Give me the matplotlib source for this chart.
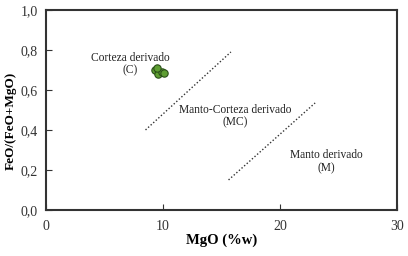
import matplotlib
matplotlib.use("Agg")
import matplotlib.pyplot as plt
from matplotlib.ticker import FuncFormatter

plt.rcParams['font.family'] = ['Liberation Serif', 'DejaVu Serif']

mgo = [9.3, 9.6, 9.9, 10.1, 9.5]
ratio = [0.70, 0.68, 0.69, 0.685, 0.71]

line1_x = [8.5, 15.8]
line1_y = [0.40, 0.79]
line2_x = [15.6, 23.0]
line2_y = [0.15, 0.535]

labels = ["Corteza derivado\n(C)", "Manto-Corteza derivado\n(MC)", "Manto derivado\n(M)"]
label_x = [7.2, 16.2, 24.0]
label_y = [0.73, 0.47, 0.24]

xticks = [0, 10, 20, 30]
yticks = [0.0, 0.2, 0.4, 0.6, 0.8, 1.0]

fig = plt.figure(figsize=(4.08, 2.56), dpi=100)
ax = fig.add_axes([0.113, 0.180, 0.860, 0.781])

ax.plot(line1_x, line1_y, linestyle=(0, (1, 1.5)), color='#333333', lw=1.0)
ax.plot(line2_x, line2_y, linestyle=(0, (1, 1.5)), color='#333333', lw=1.0)

ax.scatter(mgo, ratio, s=28, facecolor='#5e9e32', edgecolor='#2a4f18', linewidth=0.8, zorder=3)

for t, x, y in zip(labels, label_x, label_y):
    ax.text(x, y, t, ha='center', va='center', fontsize=8.3, color='#222222', linespacing=1.1)

ax.set_xlim(0, 30)
ax.set_ylim(0, 1.0)
ax.set_xticks(xticks)
ax.set_yticks(yticks)
ax.yaxis.set_major_formatter(FuncFormatter(lambda v, p: f"{v:.1f}".replace('.', ',')))
ax.tick_params(axis='x', direction='in', length=4, labelsize=10, pad=7, colors='#333333')
ax.tick_params(axis='y', direction='in', length=4, labelsize=10, pad=6, colors='#333333')
for s in ax.spines.values():
    s.set_linewidth(1.5)
    s.set_color('#333333')

ax.set_xlabel("MgO (%w)", fontsize=10.5, fontweight='bold')
ax.xaxis.set_label_coords(0.5, -0.12)
ax.set_ylabel("FeO/(FeO+MgO)", fontsize=9.5, fontweight='bold')
ax.yaxis.set_label_coords(-0.083, 0.445)

fig.savefig("out.png", dpi=100)
